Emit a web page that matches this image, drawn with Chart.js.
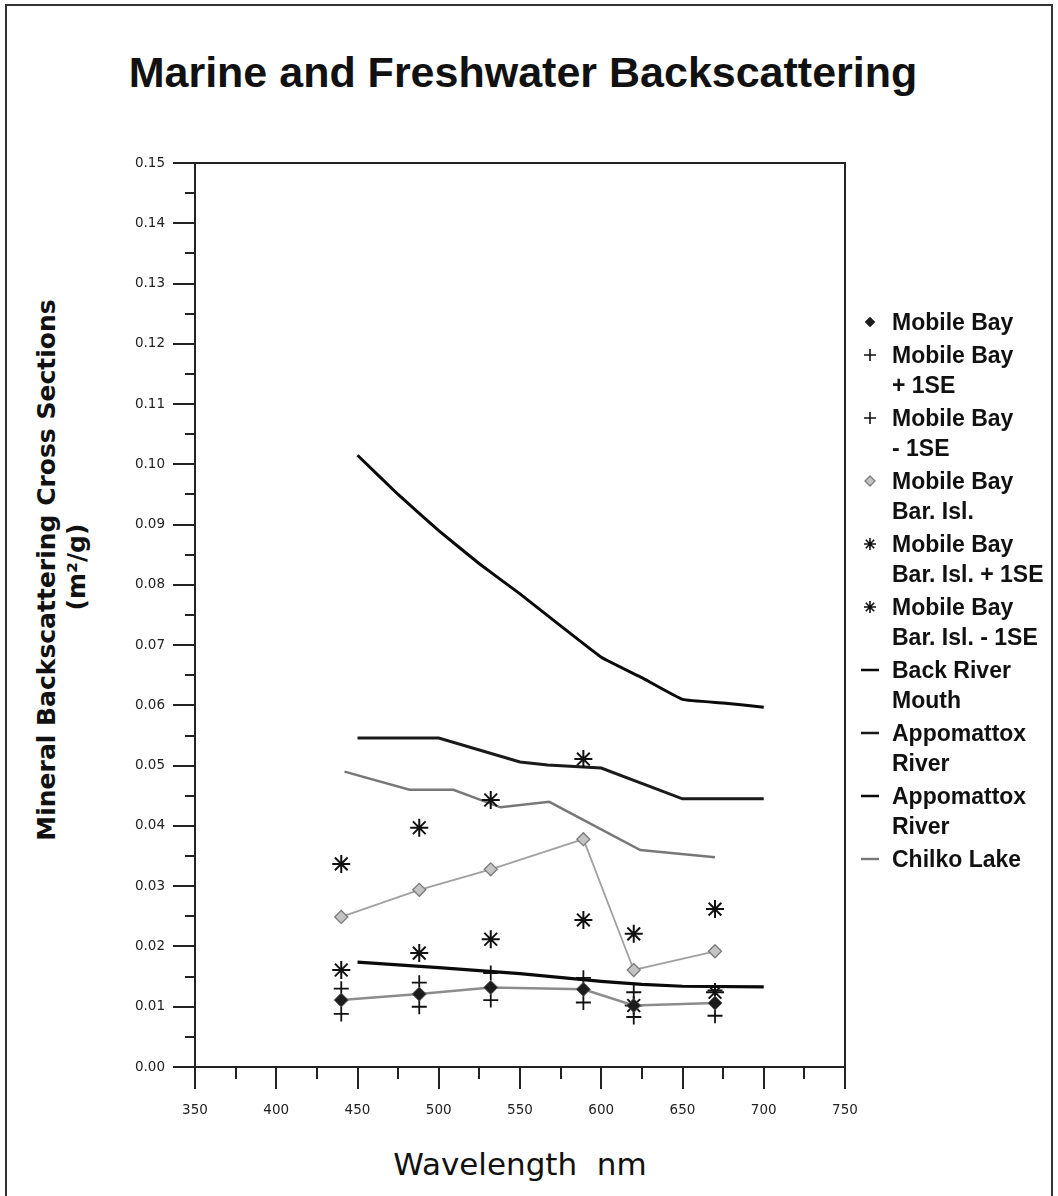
<!DOCTYPE html>
<html>
<head>
<meta charset="utf-8">
<script src="https://cdn.jsdelivr.net/npm/chart.js@4"></script>
<style>
  html, body { margin:0; padding:0; background:#fff; }
  body { width:1058px; height:1196px; position:relative; overflow:hidden; }
  #frame { position:absolute; left:5px; top:4px; width:1048px; height:1210px; border:2px solid #333; box-sizing:border-box; }
  #title { position:absolute; left:0; width:1046px; top:48px; height:46px; line-height:46px; text-align:center;
           font:bold 43px 'Liberation Sans', Arial, sans-serif; color:#111; }
  .ytitle { position:absolute; width:700px; height:32px; line-height:32px; text-align:center; transform:rotate(-90deg);
            font:bold 25px 'DejaVu Sans', sans-serif; color:#111; white-space:nowrap; }
  #xtitle { position:absolute; left:0; width:1040px; top:1146px; height:36px; line-height:36px; text-align:center;
            font:31px 'DejaVu Sans', sans-serif; color:#111; white-space:pre; }
  #legend { position:absolute; left:856px; top:307px; }
  .item { position:relative; margin-bottom:3px; padding-left:36px; }
  .item div.t { font:bold 23px 'Liberation Sans', Arial, sans-serif; line-height:30px; height:30px; color:#111; white-space:nowrap; }
  .item canvas { position:absolute; left:2px; top:5px; }
  canvas#c { position:absolute; left:0; top:0; }
</style>
</head>
<body>
<div id="frame"></div>
<div id="title">Marine and Freshwater Backscattering</div>
<div class="ytitle" style="left:-302px; top:554px;">Mineral Backscattering Cross Sections</div>
<div class="ytitle" style="left:-272px; top:551px;">(m²/g)</div>
<div id="xtitle">Wavelength  nm</div>
<canvas id="c" width="1058" height="1196"></canvas>
<div id="legend"></div>
<script>
// ---- data ----
const sampleWavelengths = [440, 488, 532, 589, 620, 670];
const mobileBay        = [0.0111, 0.0121, 0.0132, 0.0129, 0.0102, 0.0106];
const mobileBayPlus    = [0.0130, 0.0140, 0.0156, 0.0148, 0.0124, 0.0127];
const mobileBayMinus   = [0.0088, 0.0100, 0.0111, 0.0107, 0.0083, 0.0085];
const barIsl           = [0.0249, 0.0294, 0.0328, 0.0378, 0.0161, 0.0192];
const barIslPlus       = [0.0337, 0.0397, 0.0443, 0.0511, 0.0221, 0.0262];
const barIslMinus      = [0.0161, 0.0189, 0.0212, 0.0244, 0.0102, 0.0124];

const backRiverWl      = [450, 475, 500, 525, 550, 575, 600, 625, 650, 675, 700];
const backRiver        = [0.1015, 0.0950, 0.0890, 0.0835, 0.0785, 0.0732, 0.0680, 0.0646, 0.0610, 0.0604, 0.0597];
const appomattox1Wl    = [450, 500, 550, 567, 600, 650, 700];
const appomattox1      = [0.0546, 0.0546, 0.0506, 0.0501, 0.0496, 0.0445, 0.0445];
const appomattox2Wl    = [450, 500, 550, 600, 625, 650, 700];
const appomattox2      = [0.0174, 0.0165, 0.0155, 0.0142, 0.0137, 0.0134, 0.0133];
const chilkoWl         = [442, 482, 509, 538, 568, 624, 670];
const chilko           = [0.0490, 0.0460, 0.0460, 0.0431, 0.0440, 0.0360, 0.0348];

const seriesLabels = ['Mobile Bay', 'Mobile Bay + 1SE', 'Mobile Bay - 1SE', 'Mobile Bay Bar. Isl.',
  'Mobile Bay Bar. Isl. + 1SE', 'Mobile Bay Bar. Isl. - 1SE', 'Back River Mouth',
  'Appomattox River', 'Appomattox River', 'Chilko Lake'];
const legendLines = [['Mobile Bay'], ['Mobile Bay', '+ 1SE'], ['Mobile Bay', '- 1SE'], ['Mobile Bay', 'Bar. Isl.'],
  ['Mobile Bay', 'Bar. Isl. + 1SE'], ['Mobile Bay', 'Bar. Isl. - 1SE'], ['Back River', 'Mouth'],
  ['Appomattox', 'River'], ['Appomattox', 'River'], ['Chilko Lake']];
const xTicks = { min: 350, max: 750, step: 50, minorStep: 25 };
const yTicks = { min: 0, max: 0.15, step: 0.01, minorStep: 0.005 };

const pts = (xs, ys) => xs.map((x, i) => ({ x: x, y: ys[i] }));

const datasets = [
  { label: seriesLabels[0], data: pts(sampleWavelengths, mobileBay), showLine: true,
    borderColor: '#8c8c8c', borderWidth: 2.5, pointStyle: 'rectRot', pointRadius: 7,
    pointBackgroundColor: '#1c1c1c', pointBorderColor: '#555', pointBorderWidth: 1 },
  { label: seriesLabels[1], data: pts(sampleWavelengths, mobileBayPlus), showLine: false,
    pointStyle: 'cross', pointRadius: 7.5, pointBorderColor: '#111', pointBorderWidth: 1.8, borderColor: '#111' },
  { label: seriesLabels[2], data: pts(sampleWavelengths, mobileBayMinus), showLine: false,
    pointStyle: 'cross', pointRadius: 7.5, pointBorderColor: '#111', pointBorderWidth: 1.8, borderColor: '#111' },
  { label: seriesLabels[3], data: pts(sampleWavelengths, barIsl), showLine: true,
    borderColor: '#a0a0a0', borderWidth: 1.8, pointStyle: 'rectRot', pointRadius: 6.5,
    pointBackgroundColor: '#c4c4c4', pointBorderColor: '#7a7a7a', pointBorderWidth: 1.3 },
  { label: seriesLabels[4], data: pts(sampleWavelengths, barIslPlus), showLine: false,
    pointStyle: 'star', pointRadius: 9, pointBorderColor: '#111', pointBorderWidth: 2, borderColor: '#111' },
  { label: seriesLabels[5], data: pts(sampleWavelengths, barIslMinus), showLine: false,
    pointStyle: 'star', pointRadius: 9, pointBorderColor: '#111', pointBorderWidth: 2, borderColor: '#111' },
  { label: seriesLabels[6], data: pts(backRiverWl, backRiver), showLine: true, pointRadius: 0,
    borderColor: '#0a0a0a', borderWidth: 3, tension: 0.1 },
  { label: seriesLabels[7], data: pts(appomattox1Wl, appomattox1), showLine: true, pointRadius: 0,
    borderColor: '#1a1a1a', borderWidth: 3 },
  { label: seriesLabels[8], data: pts(appomattox2Wl, appomattox2), showLine: true, pointRadius: 0,
    borderColor: '#0a0a0a', borderWidth: 3.2 },
  { label: seriesLabels[9], data: pts(chilkoWl, chilko), showLine: true, pointRadius: 0,
    borderColor: '#777', borderWidth: 2.4 }
];

const framePlugin = {
  id: 'frameAndMinor',
  afterDraw(chart) {
    const ctx = chart.ctx, a = chart.chartArea;
    const xs = chart.scales.x, ys = chart.scales.y;
    ctx.save();
    ctx.strokeStyle = '#222';
    ctx.lineWidth = 2;
    ctx.strokeRect(a.left, a.top, a.right - a.left, a.bottom - a.top);
    ctx.beginPath();
    for (let v = xTicks.min + xTicks.minorStep; v < xTicks.max; v += xTicks.step) {
      const px = Math.round(xs.getPixelForValue(v));
      ctx.moveTo(px, a.bottom); ctx.lineTo(px, a.bottom + 12);
    }
    for (let v = yTicks.min + yTicks.minorStep; v < yTicks.max; v += yTicks.step) {
      const py = Math.round(ys.getPixelForValue(v));
      ctx.moveTo(a.left - 10, py); ctx.lineTo(a.left, py);
    }
    ctx.stroke();
    ctx.restore();
  }
};

new Chart(document.getElementById('c'), {
  type: 'line',
  data: { datasets: datasets },
  options: {
    responsive: false,
    animation: false,
    layout: { padding: { left: 0, top: 163, right: 213, bottom: 0 } },
    plugins: { legend: { display: false }, title: { display: false }, tooltip: { enabled: false } },
    elements: { line: { fill: false } },
    scales: {
      x: {
        type: 'linear', min: xTicks.min, max: xTicks.max,
        ticks: { stepSize: xTicks.step, padding: 13, color: '#222', font: { family: 'DejaVu Sans', size: 13.5 },
                 maxRotation: 0, autoSkip: false },
        grid: { drawOnChartArea: false, drawTicks: true, tickLength: 22, color: '#222', lineWidth: 2 },
        border: { display: false },
        afterFit(s) { s.height = 1196 - 1067; }
      },
      y: {
        type: 'linear', min: yTicks.min, max: yTicks.max,
        ticks: { stepSize: yTicks.step, padding: 8, color: '#222', font: { family: 'DejaVu Sans', size: 13.5 },
                 callback: v => v.toFixed(2), autoSkip: false },
        grid: { drawOnChartArea: false, drawTicks: true, tickLength: 22, color: '#222', lineWidth: 2 },
        border: { display: false },
        afterFit(s) { s.width = 195; }
      }
    }
  },
  plugins: [framePlugin]
});

// ---- legend (HTML text, symbols drawn from dataset styles) ----
const legend = document.getElementById('legend');
datasets.forEach((ds, i) => {
  const item = document.createElement('div');
  item.className = 'item';
  const cv = document.createElement('canvas');
  cv.width = 24; cv.height = 20;
  const g = cv.getContext('2d');
  const cx = 12, cy = 10;
  if (ds.pointRadius > 0) {
    const r = ds.pointStyle === 'rectRot' ? 5 : 6;
    g.lineWidth = Math.min(ds.pointBorderWidth || 1.5, 1.6);
    g.strokeStyle = ds.pointBorderColor;
    g.beginPath();
    if (ds.pointStyle === 'rectRot') {
      g.fillStyle = ds.pointBackgroundColor;
      g.moveTo(cx, cy - r); g.lineTo(cx + r, cy); g.lineTo(cx, cy + r); g.lineTo(cx - r, cy); g.closePath();
      g.fill(); g.stroke();
    } else if (ds.pointStyle === 'cross') {
      g.moveTo(cx - r, cy); g.lineTo(cx + r, cy); g.moveTo(cx, cy - r); g.lineTo(cx, cy + r); g.stroke();
    } else {
      for (let k = 0; k < 4; k++) {
        const ang = k * Math.PI / 4;
        g.moveTo(cx - r * Math.cos(ang), cy - r * Math.sin(ang));
        g.lineTo(cx + r * Math.cos(ang), cy + r * Math.sin(ang));
      }
      g.stroke();
    }
  } else {
    g.strokeStyle = ds.borderColor;
    g.lineWidth = Math.min(ds.borderWidth, 2.5);
    g.beginPath(); g.moveTo(3, cy); g.lineTo(21, cy); g.stroke();
  }
  item.appendChild(cv);
  legendLines[i].forEach(line => {
    const t = document.createElement('div');
    t.className = 't';
    t.textContent = line;
    item.appendChild(t);
  });
  legend.appendChild(item);
});
</script>
</body>
</html>
